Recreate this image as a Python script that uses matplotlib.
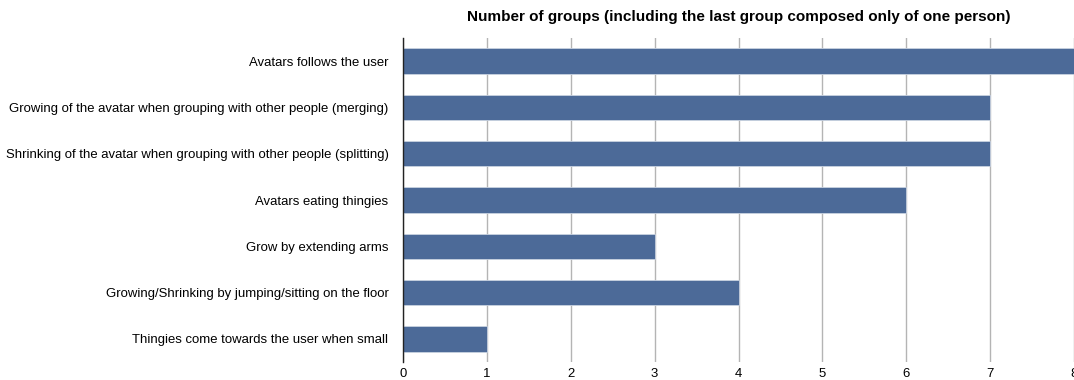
import matplotlib
matplotlib.use("Agg")
import matplotlib.pyplot as plt

categories = [
    "Avatars follows the user",
    "Growing of the avatar when grouping with other people (merging)",
    "Shrinking of the avatar when grouping with other people (splitting)",
    "Avatars eating thingies",
    "Grow by extending arms",
    "Growing/Shrinking by jumping/sitting on the floor",
    "Thingies come towards the user when small",
]
values = [8, 7, 7, 6, 3, 4, 1]
xticks = [0, 1, 2, 3, 4, 5, 6, 7, 8]
title = "Number of groups (including the last group composed only of one person)"

plt.rcParams['font.family'] = ['Liberation Sans', 'DejaVu Sans']

W, H = 1074, 380
fig = plt.figure(figsize=(W / 100, H / 100), dpi=100)
ax = fig.add_axes([403 / W, 18 / H, (W - 403) / W, 324 / H])

ypos = list(range(len(categories)))
ax.barh(ypos, values, height=0.55, color="#4c6a98", edgecolor="#c8d2e0",
        linewidth=0.6, zorder=3)
ax.set_ylim(len(categories) - 0.5, -0.5)
ax.set_xlim(0, 8)
ax.set_yticks(ypos)
ax.set_yticklabels(categories, fontsize=9.45)
ax.set_xticks(xticks)
ax.set_xticklabels([str(t) for t in xticks], fontsize=9.45)
ax.tick_params(axis='y', length=0, pad=10.5)
ax.tick_params(axis='x', length=0, pad=4.5)
ax.grid(axis='x', color="#b4b4b4", linewidth=1.0, zorder=0)
for s in ["top", "right", "bottom"]:
    ax.spines[s].set_visible(False)
ax.spines["left"].set_color("#222222")
ax.spines["left"].set_linewidth(1.0)
ax.spines["left"].set_zorder(4)
ax.set_title(title, fontsize=11, fontweight='bold', pad=12)

fig.savefig("out.png", dpi=100)
